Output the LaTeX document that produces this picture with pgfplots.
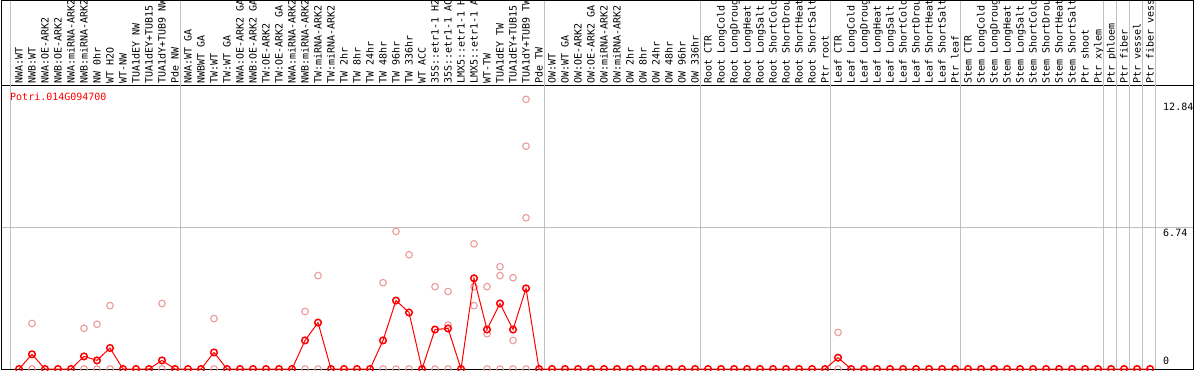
\documentclass[border=0pt]{standalone}
\usepackage{pgfplots}
\pgfplotsset{compat=1.18}
\usepackage{fontspec}
\newfontfamily\pix{DejaVu Sans Mono}
\definecolor{lightred}{RGB}{236,155,155}
\definecolor{gridgray}{RGB}{192,192,192}
\newcommand{\pixfont}{\pix\fontsize{10bp}{12bp}\selectfont}
\begin{document}
\begin{tikzpicture}[x=1bp,y=1bp]
\path[use as bounding box] (0,0) rectangle (1194,370);
\begin{axis}[
  at={(1bp,1bp)}, anchor=south west,
  width=1192bp, height=283bp, scale only axis,
  xmin=-1.3846, xmax=90.3077, ymin=0, ymax=13.476,
  clip mode=individual,
  axis line style={black, line width=1bp},
  xtick={0,...,87},
  xticklabels={NWA:WT,NWB:WT,NWA:OE-ARK2,NWB:OE-ARK2,NWA:miRNA-ARK2,NWB:miRNA-ARK2,NW 0hr,WT H2O,WT-NW,TUA1dEY NW,TUA1dEY+TUB15 NW,TUA1dY+TUB9 NW,Pde NW,
    NWA:WT GA,NWBWT GA,TW:WT,TW:WT GA,NWA:OE-ARK2 GA,NWB:OE-ARK2 GA,TW:OE-ARK2,TW:OE-ARK2 GA,NWA:miRNA-ARK2,NWB:miRNA-ARK2,TW:miRNA-ARK2,TW:miRNA-ARK2,TW 2hr,TW 8hr,TW 24hr,TW 48hr,TW 96hr,TW 336hr,WT ACC,35S::etr1-1 H2O,35S::etr1-1 ACC,LMX5::etr1-1 H2O,LMX5::etr1-1 ACC,WT-TW,TUA1dEY TW,TUA1dEY+TUB15 TW,TUA1dY+TUB9 TW,Pde TW,
    OW:WT,OW:WT GA,OW:OE-ARK2,OW:OE-ARK2 GA,OW:miRNA-ARK2,OW:miRNA-ARK2,OW 2hr,OW 8hr,OW 24hr,OW 48hr,OW 96hr,OW 336hr,
    Root CTR,Root LongCold,Root LongDrought,Root LongHeat,Root LongSalt,Root ShortCold,Root ShortDrought,Root ShortHeat,Root ShortSalt,Ptr root,
    Leaf CTR,Leaf LongCold,Leaf LongDrought,Leaf LongHeat,Leaf LongSalt,Leaf ShortCold,Leaf ShortDrought,Leaf ShortHeat,Leaf ShortSalt,Ptr leaf,
    Stem CTR,Stem LongCold,Stem LongDrought,Stem LongHeat,Stem LongSalt,Stem ShortCold,Stem ShortDrought,Stem ShortHeat,Stem ShortSalt,Ptr shoot,
    Ptr xylem,Ptr phloem,Ptr fiber,Ptr vessel,Ptr fiber vessel},
  xticklabel pos=upper,
  x tick label style={font=\pixfont, rotate=90, anchor=west, inner xsep=2bp, inner ysep=0pt, text height=7.3bp, text depth=0.2bp},
  ytick=\empty,
  major tick length=0pt,
]
\pgfplotsinvokeforeach{-0.65,12.4,40.45,52.4,62.4,72.4,83.4,84.4,85.4,86.4,87.4}{
  \draw[gridgray, line width=1bp] (axis cs:#1,0) -- (axis cs:#1,17.6);
}
\draw[gridgray, line width=1bp] (axis cs:-1.3846,6.74) -- (axis cs:90.3077,6.74);

% replicates
\addplot[only marks, mark=o, mark size=3.3bp, color=lightred, mark options={line width=1.1bp}] coordinates {
(1,2.17)(1,0)(5,1.94)(5,0)(6,2.13)(6,0)(7,3.02)(7,0)(11,3.12)(11,0)(15,2.40)(15,0)
(22,2.74)(22,0)(23,4.45)(23,0)(28,4.11)(28,0)(29,6.55)(29,0)(30,5.44)(30,0)
(32,3.92)(32,0)(33,3.69)(33,2.09)(33,0)(35,5.96)(35,3.92)(35,3.02)(36,3.92)(36,1.68)(36,0)
(37,4.87)(37,4.45)(37,0)(38,4.35)(38,1.36)(38,0)(39,12.84)(39,10.61)(39,7.20)(39,0)(63,1.74)(63,0)
};
% mean
\addplot[color=red, line width=1bp, mark=o, mark size=3.3bp, mark options={line width=1.5bp}] coordinates {
(0,0)(1,0.70)(2,0)(3,0)(4,0)(5,0.60)(6,0.41)(7,1.00)(8,0)(9,0)(10,0)(11,0.41)(12,0)
(13,0)(14,0)(15,0.79)(16,0)(17,0)(18,0)(19,0)(20,0)(21,0)(22,1.36)(23,2.21)(24,0)
(25,0)(26,0)(27,0)(28,1.36)(29,3.26)(30,2.69)(31,0)(32,1.88)(33,1.93)(34,0)(35,4.32)
(36,1.88)(37,3.12)(38,1.88)(39,3.84)(40,0)
(41,0)(42,0)(43,0)(44,0)(45,0)(46,0)(47,0)(48,0)(49,0)(50,0)(51,0)(52,0)
(53,0)(54,0)(55,0)(56,0)(57,0)(58,0)(59,0)(60,0)(61,0)(62,0)
(63,0.54)(64,0)(65,0)(66,0)(67,0)(68,0)(69,0)(70,0)(71,0)(72,0)
(73,0)(74,0)(75,0)(76,0)(77,0)(78,0)(79,0)(80,0)(81,0)(82,0)
(83,0)(84,0)(85,0)(86,0)(87,0)
};
\end{axis}
\draw[black, line width=1bp] (1,0.5) -- (1,369.5) -- (1193,369.5) -- (1193,0.5);
\node[font=\pixfont, text=red, anchor=north west, inner sep=0pt] at (10,277) {Potri.014G094700};
\node[font=\pixfont, anchor=north west, inner sep=0pt] at (1163,266.7) {12.84};
\node[font=\pixfont, anchor=north west, inner sep=0pt] at (1163,141.5) {6.74};
\node[font=\pixfont, anchor=south west, inner sep=0pt] at (1163,5) {0};
\end{tikzpicture}
\end{document}
